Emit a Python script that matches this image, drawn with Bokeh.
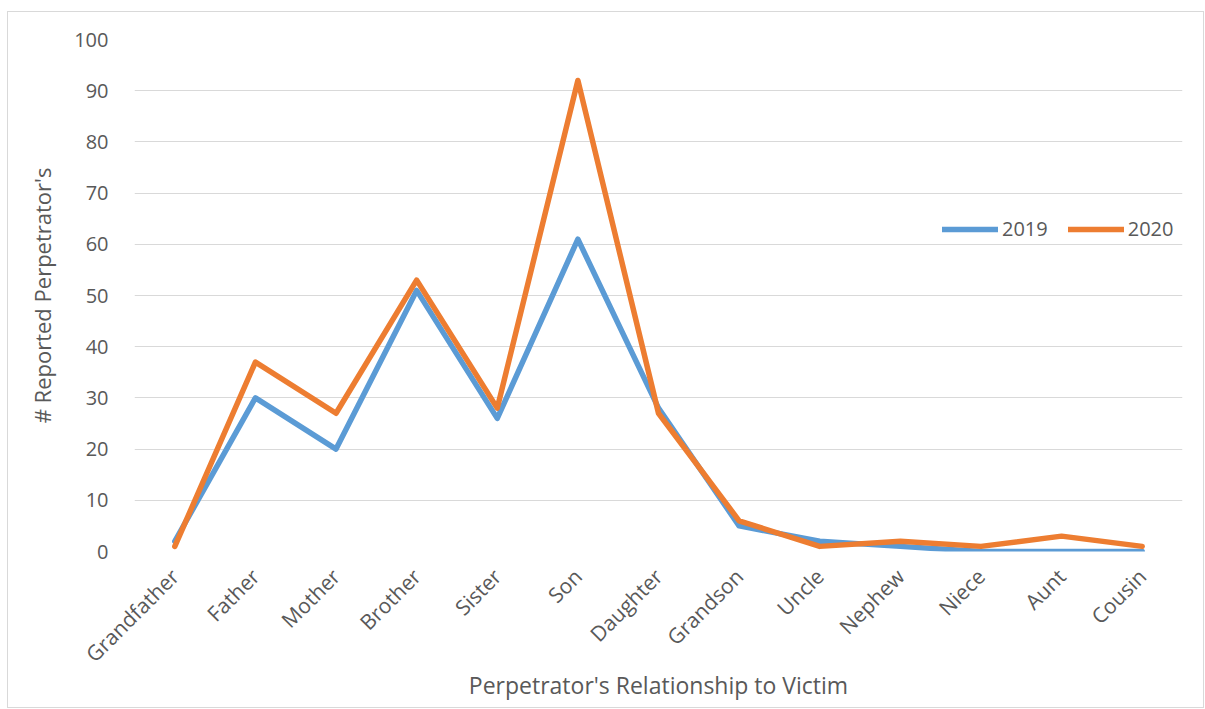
from math import pi
from bokeh.plotting import figure
from bokeh.models import ColumnDataSource, Legend, LegendItem, Range1d, FactorRange, SingleIntervalTicker
from bokeh.embed import file_html
from bokeh.resources import INLINE

categories = ["Grandfather", "Father", "Mother", "Brother", "Sister", "Son", "Daughter",
              "Grandson", "Uncle", "Nephew", "Niece", "Aunt", "Cousin"]
values_2019 = [2, 30, 20, 51, 26, 61, 28, 5, 2, 1, 0, 0, 0]
values_2020 = [1, 37, 27, 53, 28, 92, 27, 6, 1, 2, 1, 3, 1]

FONT = "Open Sans"
TXT = "#595959"

src = ColumnDataSource(dict(cat=categories, y2019=values_2019, y2020=values_2020))

p = figure(width=1197, height=697, x_range=FactorRange(*categories, range_padding=0),
           y_range=Range1d(0, 100), output_backend="svg", toolbar_location=None,
           min_border_left=126, min_border_right=23, min_border_top=27, min_border_bottom=158)
p.styles = {"border": "1px solid #d9d9d9", "box-sizing": "border-box",
            "margin-left": "7px", "margin-top": "11px"}
p.outline_line_color = None
p.background_fill_color = "white"
p.border_fill_color = "white"

r1 = p.line("cat", "y2019", source=src, line_color="#5B9BD5", line_width=5.5,
            line_join="round", line_cap="round")
r2 = p.line("cat", "y2020", source=src, line_color="#ED7D31", line_width=5.5,
            line_join="round", line_cap="round")

p.yaxis.ticker = SingleIntervalTicker(interval=10)
p.ygrid.grid_line_color = "#d9d9d9"
p.ygrid.grid_line_width = 1
p.xgrid.grid_line_color = None

for ax in (p.xaxis, p.yaxis):
    ax.axis_line_color = None
    ax.major_tick_line_color = None
    ax.minor_tick_line_color = None
    ax.major_label_text_font = FONT
    ax.major_label_text_color = TXT
    ax.axis_label_text_font = FONT
    ax.axis_label_text_color = TXT
    ax.axis_label_text_font_style = "normal"

p.xaxis.major_label_text_font_size = "21px"
p.yaxis.major_label_text_font_size = "20px"
p.xaxis.axis_label_text_font_size = "23px"
p.yaxis.axis_label_text_font_size = "22px"

p.xaxis.major_label_orientation = pi / 4
p.xaxis.major_label_standoff = 15
p.yaxis.major_label_standoff = 20
p.xaxis.axis_label = "Perpetrator's Relationship to Victim"
p.yaxis.axis_label = "# Reported Perpetrator's"
p.xaxis.axis_label_standoff = -12
p.yaxis.axis_label_standoff = 14

legend = Legend(items=[LegendItem(label="2019", renderers=[r1]),
                       LegendItem(label="2020", renderers=[r2])],
                location=(808, 309), orientation="horizontal",
                label_text_font=FONT, label_text_font_size="20px", label_text_color=TXT,
                glyph_width=56, label_standoff=4, spacing=20,
                border_line_color=None, background_fill_alpha=0)
p.add_layout(legend, "center")

open("out.html", "w").write(file_html(p, INLINE))
